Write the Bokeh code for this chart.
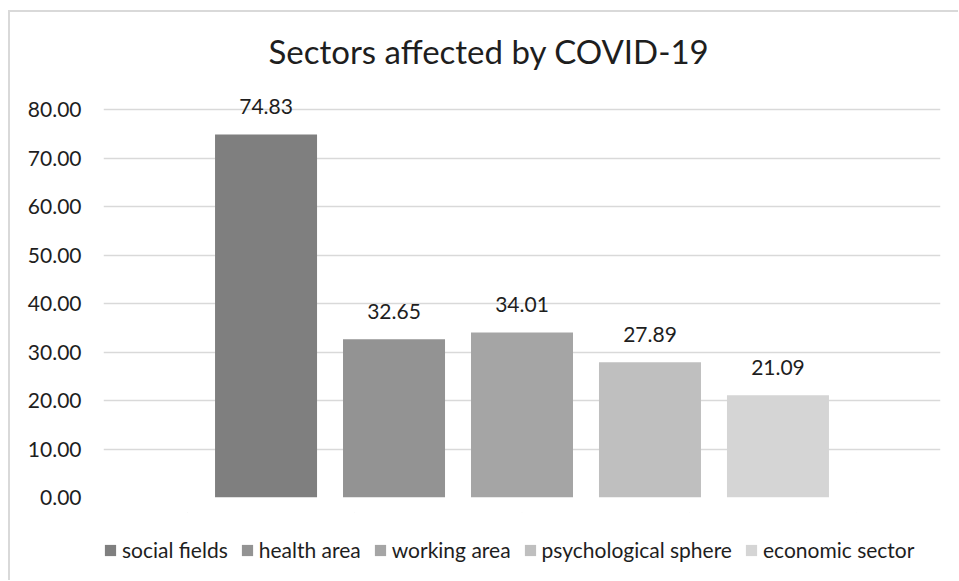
from bokeh.plotting import figure
from bokeh.layouts import column
from bokeh.models import (FactorRange, ColumnDataSource, FixedTicker, NumeralTickFormatter,
                          Legend, LegendItem, Range1d)
from bokeh.core.properties import value
from bokeh.embed import file_html
from bokeh.resources import INLINE

title = "Sectors affected by COVID-19"
series = ["social fields", "health area", "working area", "psychological sphere", "economic sector"]
values = [74.83, 32.65, 34.01, 27.89, 21.09]
colors = ["#7f7f7f", "#939393", "#a5a5a5", "#bfbfbf", "#d5d5d5"]
y_ticks = [0, 10, 20, 30, 40, 50, 60, 70, 80]

FONT = "Lato"
TXT = "#1e1e1e"

src = ColumnDataSource(dict(series=series, values=values, colors=colors,
                            labels=[f"{v:.2f}" for v in values]))

# ---- main chart (range a little above 80 so the top data label is not clipped) ----
p = figure(width=948, height=500,
           x_range=FactorRange(*series, range_padding=0.308, range_padding_units="percent"),
           y_range=(0, 85.57), output_backend="svg", toolbar_location=None,
           min_border_left=93, min_border_right=18, min_border_top=70, min_border_bottom=15)

bars = p.vbar(x="series", top="values", width=0.797, color="colors", line_color=None, source=src)
p.text(x="series", y="values", text="labels", source=src, text_align="center",
       text_baseline="alphabetic", y_offset=-28, text_font=value(FONT),
       text_font_size="21px", text_color=TXT)

p.title.text = title
p.title.align = "left"
p.title.offset = 165
p.title.standoff = 24
p.title.text_font = FONT
p.title.text_font_size = "33px"
p.title.text_font_style = "normal"
p.title.text_color = TXT

p.xaxis.visible = False
p.xgrid.visible = False
p.yaxis.ticker = FixedTicker(ticks=y_ticks)
p.yaxis.formatter = NumeralTickFormatter(format="0.00")
p.yaxis.axis_line_color = None
p.yaxis.major_tick_line_color = None
p.yaxis.minor_tick_line_color = None
p.yaxis.major_tick_out = 0
p.yaxis.major_label_standoff = 22
p.yaxis.major_label_text_font = FONT
p.yaxis.major_label_text_font_size = "21px"
p.yaxis.major_label_text_color = TXT
p.ygrid.grid_line_color = "#d9d9d9"
p.ygrid.grid_line_width = 1.5
p.outline_line_color = None

# ---- legend strip (its degenerate bars lie far outside its visible range; only the legend shows) ----
q = figure(width=948, height=68, x_range=FactorRange(*series), y_range=Range1d(-1000, -999),
           output_backend="svg", toolbar_location=None,
           min_border_left=0, min_border_right=0, min_border_top=0, min_border_bottom=0)
q.axis.visible = False
q.grid.visible = False
q.outline_line_color = None
lbars = q.vbar(x="series", top="values", bottom="values", width=0.001, color="colors",
               line_color=None, source=src)

lg = Legend(items=[LegendItem(label=s, renderers=[lbars], index=i) for i, s in enumerate(series)])
lg.orientation = "horizontal"
lg.location = (0, 18)
lg.border_line_color = None
lg.background_fill_alpha = 0
lg.padding = 0
lg.margin = 0
lg.spacing = 12
lg.glyph_width = 14
lg.glyph_height = 14
lg.label_standoff = 5
lg.label_text_font = FONT
lg.label_text_font_size = "21px"
lg.label_text_color = TXT
q.add_layout(lg)

layout = column(p, q, spacing=0)
layout.styles = {"margin-left": "8px", "margin-top": "10px",
                 "border-left": "2px solid #d9d9d9", "border-top": "2px solid #d9d9d9"}

open("out.html", "w").write(file_html(layout, INLINE))
